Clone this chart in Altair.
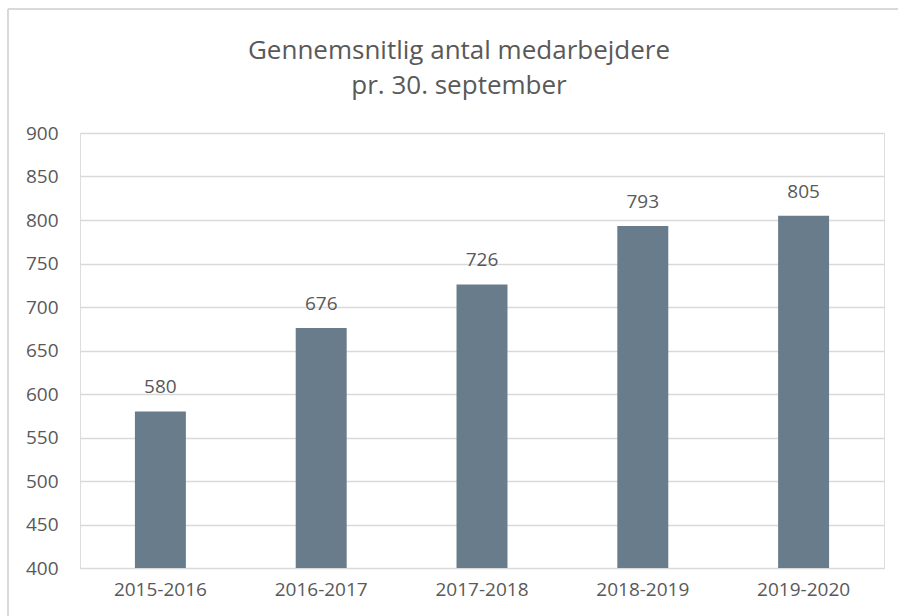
import altair as alt
import pandas as pd

periods = ["2015-2016", "2016-2017", "2017-2018", "2018-2019", "2019-2020"]
employees = [580, 676, 726, 793, 805]
y_ticks = [400, 450, 500, 550, 600, 650, 700, 750, 800, 850, 900]

df = pd.DataFrame({"period": periods, "value": employees})

FONT = "Open Sans"
TXT = "#595959"

base = alt.Chart(df).encode(
    x=alt.X(
        "period:N",
        sort=periods,
        title=None,
        scale=alt.Scale(paddingInner=0.683, paddingOuter=0.3415),
        axis=alt.Axis(
            labelAngle=0, labelFont=FONT, labelFontSize=19, labelColor=TXT,
            labelPadding=12, ticks=False, domain=False, grid=False,
        ),
    ),
    y=alt.Y(
        "value:Q",
        title=None,
        scale=alt.Scale(domain=[400, 900], nice=False, zero=False),
        axis=alt.Axis(
            values=y_ticks, labelFont=FONT, labelFontSize=19, labelColor=TXT,
            labelPadding=22, ticks=False, domain=False,
            gridColor="#D9D9D9", gridWidth=1.3,
        ),
    ),
)

bars = base.mark_bar(color="#687C8C", clip=True)
labels = base.mark_text(
    font=FONT, fontSize=19, color=TXT, baseline="alphabetic", dy=-18
).encode(text="value:Q")

frame_v = alt.Chart(df).mark_rule(color="#D9D9D9", strokeWidth=1.5).encode(
    x=alt.value(-72), y=alt.value(-124), y2=alt.value(600)
)
frame_h = alt.Chart(df).mark_rule(color="#D9D9D9", strokeWidth=1.5).encode(
    x=alt.value(-72), x2=alt.value(900), y=alt.value(-124)
)

chart = (
    alt.layer(frame_v, frame_h, bars, labels)
    .properties(
        width=804,
        height=435,
        autosize=alt.AutoSizeParams(type="none"),
        padding={"left": 80, "top": 133, "right": 14, "bottom": 48},
        title=alt.TitleParams(
            text=["Gennemsnitlig antal medarbejdere", "pr. 30. september"],
            font=FONT, fontSize=26, fontWeight="normal", color=TXT,
            anchor="middle", dx=-23, offset=-112, lineHeight=35,
            baseline="alphabetic",
        ),
    )
    .configure_view(strokeWidth=0)
    .configure(background="white")
)

chart.save("out.html", embed_options={"renderer": "svg", "actions": False})
